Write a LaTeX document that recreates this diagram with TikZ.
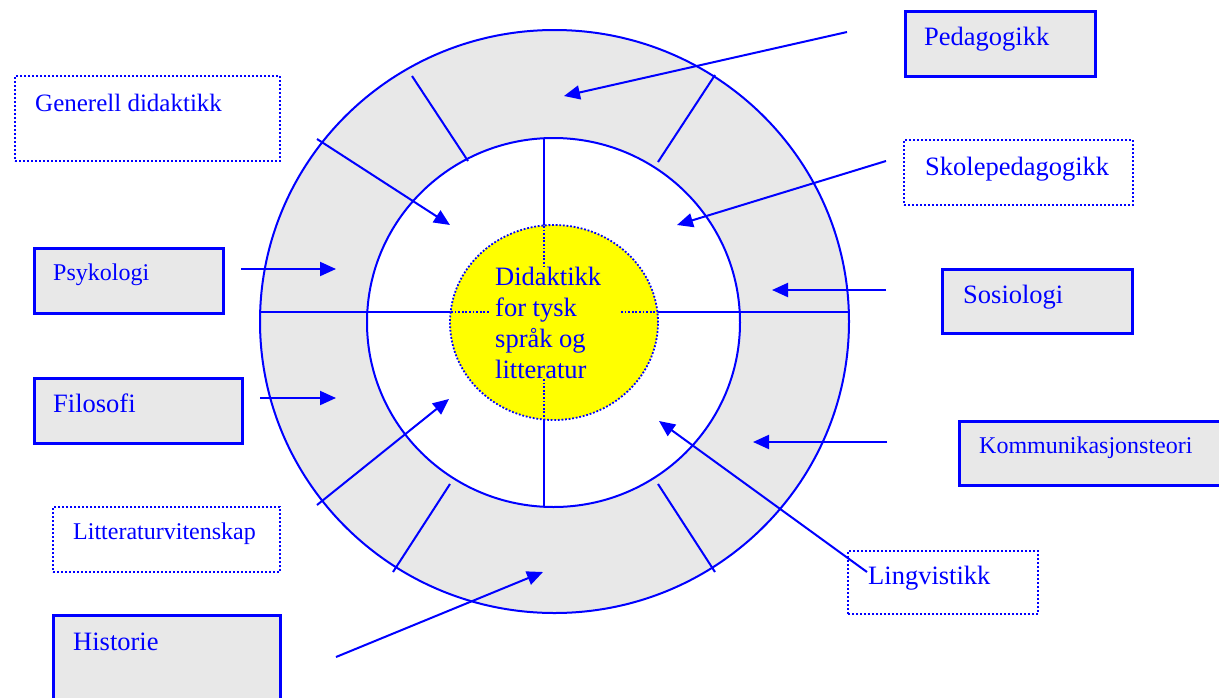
\documentclass[tikz,border=0pt]{standalone}
\usepackage{fontspec}
\setmainfont{Liberation Serif}
\usetikzlibrary{arrows.meta,shapes.geometric}
\definecolor{bl}{RGB}{0,0,255}
\definecolor{ringgray}{RGB}{232,232,232}
\definecolor{yel}{RGB}{255,255,0}
\begin{document}
\begin{tikzpicture}[x=1pt,y=-1pt,
  solidbox/.style={draw=bl, line width=2.5pt, fill=ringgray, rectangle, anchor=north west, inner sep=0pt},
  dotbox/.style={draw=bl, line width=2pt, dash pattern=on 2pt off 2pt, rectangle, anchor=north west, inner sep=0pt},
  lbig/.style={text=bl, font=\fontsize{26.5}{31}\selectfont, anchor=base west, inner sep=0pt},
  lsmall/.style={text=bl, font=\fontsize{24}{28}\selectfont, anchor=base west, inner sep=0pt},
  conn/.style={draw=bl, line width=2pt},
  arr/.style={conn, -{Triangle[length=16pt,width=14pt]}},
  ringline/.style={draw=bl, line width=2pt},
  dotline/.style={draw=bl, line width=1.8pt, dash pattern=on 1.8pt off 1.8pt},
]
\useasboundingbox (0,0) rectangle (1219,697);
\fill[white] (0,0) rectangle (1219,697);

% ring
\node[ellipse, draw=bl, line width=2pt, fill=ringgray, inner sep=0pt,
      minimum width=589pt, minimum height=583pt] (outer) at (554.5,321.5) {};
\node[ellipse, draw=bl, line width=2pt, fill=white, inner sep=0pt,
      minimum width=373pt, minimum height=369pt] (inner) at (553.5,322.5) {};

% cross lines
\coordinate (hL) at (260,312);
\coordinate (hR) at (849,312);
\coordinate (vT) at (544,138);
\coordinate (vB) at (544,507);
\draw[ringline] (hL) -- (hR);
\draw[ringline] (vT) -- (vB);

% yellow core
\node[ellipse, fill=yel, draw=bl, line width=1.8pt, dash pattern=on 1.8pt off 1.8pt, inner sep=0pt,
      minimum width=208pt, minimum height=195pt] (core) at (554,322.5) {};
\coordinate (dl1) at (451,312); \coordinate (dl2) at (489,312);
\coordinate (dr1) at (621,312); \coordinate (dr2) at (657,312);
\coordinate (dt1) at (544,226); \coordinate (dt2) at (544,266);
\coordinate (db1) at (544,379); \coordinate (db2) at (544,419);
\draw[dotline] (dl1) -- (dl2);
\draw[dotline] (dr1) -- (dr2);
\draw[dotline] (dt1) -- (dt2);
\draw[dotline] (db1) -- (db2);
\node[text=bl, font=\fontsize{26.5}{31}\selectfont, align=left, anchor=north west, inner sep=0pt]
  (coretext) at (495,267) {Didaktikk\\for tysk\\språk og\\litteratur};

% ring dividers
\coordinate (d1a) at (412,76);  \coordinate (d1b) at (468,161);
\coordinate (d2a) at (715,75);  \coordinate (d2b) at (658,162);
\coordinate (d3a) at (450,484); \coordinate (d3b) at (393,572);
\coordinate (d4a) at (658,484); \coordinate (d4b) at (715,572);
\draw[conn] (d1a) -- (d1b);
\draw[conn] (d2a) -- (d2b);
\draw[conn] (d3a) -- (d3b);
\draw[conn] (d4a) -- (d4b);

% boxes
\node[solidbox, minimum width=190pt, minimum height=65pt] (bped) at (904,10) {};
\node[lbig] (tped) at (924,45) {Pedagogikk};

\node[dotbox, minimum width=265pt, minimum height=85pt] (bgen) at (14,75) {};
\node[text=bl, font=\fontsize{25}{29}\selectfont, anchor=base west, inner sep=0pt] (tgen) at (35,111) {Generell didaktikk};

\node[dotbox, minimum width=229pt, minimum height=65pt] (bsko) at (903,139) {};
\node[lbig] (tsko) at (925,175) {Skolepedagogikk};

\node[solidbox, minimum width=189pt, minimum height=65pt] (bpsy) at (33,247) {};
\node[lsmall] (tpsy) at (53,280) {Psykologi};

\node[solidbox, minimum width=190pt, minimum height=64pt] (bsos) at (941,268) {};
\node[lbig] (tsos) at (963,303) {Sosiologi};

\node[solidbox, minimum width=208pt, minimum height=65pt] (bfil) at (33,377) {};
\node[lbig] (tfil) at (53,412) {Filosofi};

\node[solidbox, minimum width=275pt, minimum height=64pt] (bkom) at (958,420) {};
\node[lsmall] (tkom) at (979,453) {Kommunikasjonsteori};

\node[dotbox, minimum width=227pt, minimum height=65pt] (blit) at (52,506) {};
\node[lsmall] (tlit) at (73,539) {Litteraturvitenskap};

\node[dotbox, minimum width=190pt, minimum height=63pt] (blin) at (847,550) {};

\node[solidbox, minimum width=227pt, minimum height=100pt] (bhis) at (52,614) {};
\node[lbig] (this) at (73,650) {Historie};

% arrows
\coordinate (aPedS) at (847,32);  \coordinate (aPedT) at (564,96);
\coordinate (aGenS) at (317,139); \coordinate (aGenT) at (450,225);
\coordinate (aSkoS) at (886,161); \coordinate (aSkoT) at (677,225);
\coordinate (aPsyS) at (241,269); \coordinate (aPsyT) at (336,269);
\coordinate (aSosS) at (886,290); \coordinate (aSosT) at (772,290);
\coordinate (aFilS) at (260,398); \coordinate (aFilT) at (336,398);
\coordinate (aKomS) at (887,442); \coordinate (aKomT) at (753,442);
\coordinate (aLitS) at (317,505); \coordinate (aLitT) at (449,399);
\coordinate (aLinS) at (867,572); \coordinate (aLinT) at (659,421);
\coordinate (aHisS) at (336,657); \coordinate (aHisT) at (543,572);
\draw[arr] (aPedS) -- (aPedT);
\draw[arr] (aGenS) -- (aGenT);
\draw[arr] (aSkoS) -- (aSkoT);
\draw[arr] (aPsyS) -- (aPsyT);
\draw[arr] (aSosS) -- (aSosT);
\draw[arr] (aFilS) -- (aFilT);
\draw[arr] (aKomS) -- (aKomT);
\draw[arr] (aLitS) -- (aLitT);
\draw[arr] (aLinS) -- (aLinT);
\draw[arr] (aHisS) -- (aHisT);

\node[lbig] (tlin) at (868,584) {Lingvistikk};
\end{tikzpicture}
\end{document}
